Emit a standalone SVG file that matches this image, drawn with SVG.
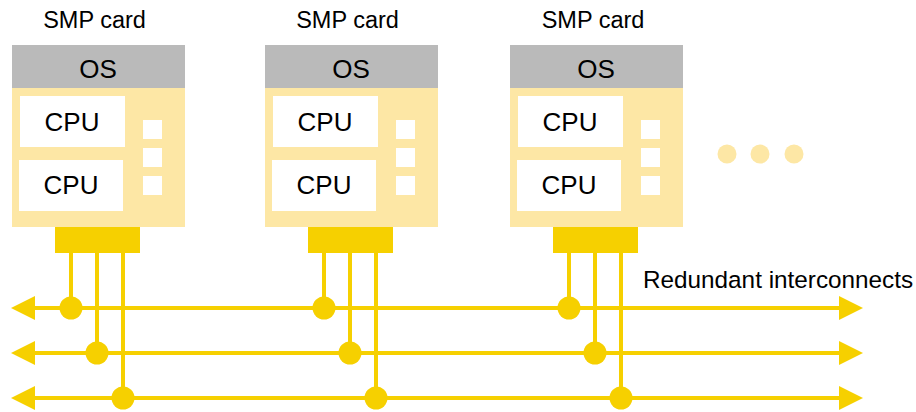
<svg xmlns="http://www.w3.org/2000/svg" width="916" height="412" viewBox="0 0 916 412">
<defs>
<style>
.t{font-family:"Liberation Sans",Arial,Helvetica,sans-serif;fill:#000;text-anchor:middle}
.title{font-size:23.5px}
.os{font-size:26px}
.cpu{font-size:26px}
.band{fill:#bababa}
.body{fill:#fde7a5}
.box{fill:#fff}
.blk{fill:#f6d000}
.bus{stroke:#f6d000;stroke-width:4;fill:none}
.dot{fill:#f6d000}
.more{fill:#fde7a5}
</style>
<g id="card">
<rect class="band" x="0" y="45" width="173" height="43"/>
<rect class="body" x="0" y="88" width="173" height="139"/>
<rect class="box" x="8" y="96" width="105" height="51"/>
<rect class="box" x="7" y="160" width="104" height="51"/>
<rect class="box" x="131" y="120" width="19" height="19"/>
<rect class="box" x="131" y="148" width="19" height="19"/>
<rect class="box" x="131" y="176" width="19" height="19"/>
<rect class="blk" x="43" y="227" width="85" height="26"/>
</g>
</defs>
<g id="connectors">
<line class="bus" x1="33" y1="308" x2="841" y2="308"/>
<line class="bus" x1="33" y1="353" x2="841" y2="353"/>
<line class="bus" x1="33" y1="398" x2="841" y2="398"/>
<polygon class="dot" points="11,308 35,296 35,320"/>
<polygon class="dot" points="11,353 35,341 35,365"/>
<polygon class="dot" points="11,398 35,386 35,410"/>
<polygon class="dot" points="863,308 839,296 839,320"/>
<polygon class="dot" points="863,353 839,341 839,365"/>
<polygon class="dot" points="863,398 839,386 839,410"/>
<path class="bus" d="M71,253V308M97,253V353M123,253V398M324,253V308M350,253V353M376,253V398M569,253V308M595,253V353M621,253V398"/>
<circle class="dot" cx="71" cy="308" r="11.5"/>
<circle class="dot" cx="97" cy="353" r="11.5"/>
<circle class="dot" cx="123" cy="398" r="11.5"/>
<circle class="dot" cx="324" cy="308" r="11.5"/>
<circle class="dot" cx="350" cy="353" r="11.5"/>
<circle class="dot" cx="376" cy="398" r="11.5"/>
<circle class="dot" cx="569" cy="308" r="11.5"/>
<circle class="dot" cx="595" cy="353" r="11.5"/>
<circle class="dot" cx="621" cy="398" r="11.5"/>
</g>
<g id="card1">
<use href="#card" x="12"/>
<text class="t title" x="94.5" y="28">SMP card</text>
<text class="t os" x="98" y="78">OS</text>
<text class="t cpu" x="72" y="131">CPU</text>
<text class="t cpu" x="71" y="194">CPU</text>
</g>
<g id="card2">
<use href="#card" x="265"/>
<text class="t title" x="347.5" y="28">SMP card</text>
<text class="t os" x="351" y="78">OS</text>
<text class="t cpu" x="325" y="131">CPU</text>
<text class="t cpu" x="324" y="194">CPU</text>
</g>
<g id="card3">
<use href="#card" x="510"/>
<text class="t title" x="593" y="28">SMP card</text>
<text class="t os" x="596" y="78">OS</text>
<text class="t cpu" x="570" y="131">CPU</text>
<text class="t cpu" x="569" y="194">CPU</text>
</g>
<g id="ellipsis">
<circle class="more" cx="727" cy="154" r="9.5"/>
<circle class="more" cx="760" cy="154" r="9.5"/>
<circle class="more" cx="794" cy="154" r="9.5"/>
</g>
<g id="label">
<text x="643" y="288" style="font-family:'Liberation Sans',Arial,sans-serif;font-size:24.3px;fill:#000">Redundant interconnects</text>
</g>
</svg>
